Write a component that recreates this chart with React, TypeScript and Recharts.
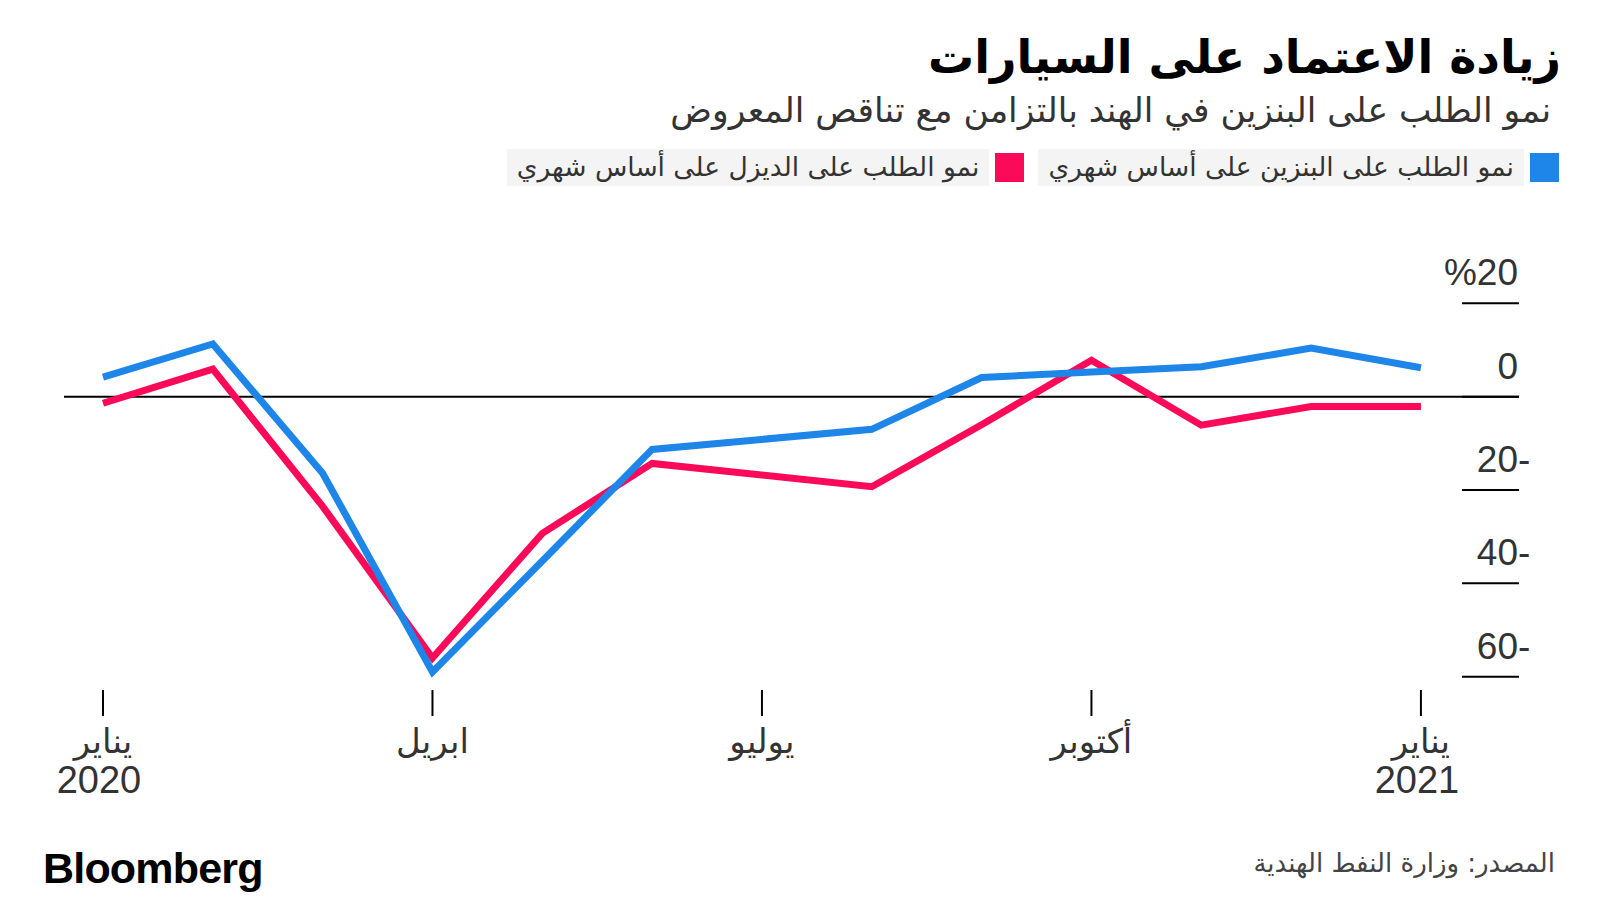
import { LineChart, Line, XAxis, YAxis, ReferenceLine } from 'recharts'

// month index 0 = Jan 2020 ... 12 = Jan 2021
const months = [0, 1, 2, 3, 4, 5, 6, 7, 8, 9, 10, 11, 12]
// y/y growth, % (July has no point in the source chart)
const petrol = [4.2, 11.3, -16.4, -59, -35.2, -11.3, null, -7.0, 4.1, 5.3, 6.4, 10.4, 6.2]
const diesel = [-1.4, 5.9, -23.5, -56, -29.3, -14.3, null, -19.3, -6, 7.8, -6.1, -2.1, -2.1]

const tickMonths = [0, 3, 6, 9, 12]
const tickNames = ['يناير', 'ابريل', 'يوليو', 'أكتوبر', 'يناير']
const tickYears = ['2020', '', '', '', '2021']
const yTicks = [20, 0, -20, -40, -60]

const title = 'زيادة الاعتماد على السيارات'
const subtitle = 'نمو الطلب على البنزين في الهند بالتزامن مع تناقص المعروض'
const petrolLabel = 'نمو الطلب على البنزين على أساس شهري'
const dieselLabel = 'نمو الطلب على الديزل على أساس شهري'
const source = 'المصدر: وزارة النفط الهندية'

const BLUE = '#1e86e9'
const RED = '#fb0a5a'
const TEXT = '#333'
const NUM_FONT = "'Liberation Sans', 'DejaVu Sans', sans-serif"
const AR_FONT = "'DejaVu Sans', sans-serif"

const data = months.map((m, i) => ({ m, petrol: petrol[i], diesel: diesel[i] }))

function YTick({ y, payload }: any) {
  const v = payload.value as number
  const right = 1518
  const label = v > 0 ? '%' + v : String(Math.abs(v))
  return (
    <g>
      <line x1={1462} x2={1519} y1={y} y2={y} stroke="#000" strokeWidth={2} />
      <text x={right} y={y - 18} textAnchor="end" fontSize={37} fill={TEXT} fontFamily={NUM_FONT}>
        {label}
      </text>
      {v < 0 && (
        <text x={right} y={y - 18} textAnchor="start" fontSize={37} fill={TEXT} fontFamily={NUM_FONT}>
          -
        </text>
      )}
    </g>
  )
}

function XTick({ x, payload }: any) {
  const i = tickMonths.indexOf(payload.value)
  return (
    <g>
      <line x1={x} x2={x} y1={690} y2={716} stroke="#000" strokeWidth={2} />
      <text x={x} y={753} textAnchor="middle" fontSize={34} fill={TEXT} fontFamily={AR_FONT}>
        {tickNames[i]}
      </text>
      {tickYears[i] && (
        <text x={x - 4} y={793} textAnchor="middle" fontSize={38} fill={TEXT} fontFamily={NUM_FONT}>
          {tickYears[i]}
        </text>
      )}
    </g>
  )
}

function LegendItem({ color, label }: { color: string; label: string }) {
  return (
    <div style={{ display: 'flex', alignItems: 'center' }}>
      <div style={{ width: 29, height: 29, background: color }} />
      <div
        style={{
          marginRight: 6,
          background: '#f4f4f4',
          padding: '2px 10px 4px 10px',
          fontSize: 26.5,
          color: TEXT,
          lineHeight: '31px',
        }}
      >
        {label}
      </div>
    </div>
  )
}

export default function App() {
  return (
    <div
      style={{
        position: 'absolute',
        left: 0,
        top: 0,
        width: 1600,
        height: 900,
        background: '#fff',
        overflow: 'hidden',
      }}
    >
      <div
        style={{
          position: 'absolute',
          right: 39,
          top: 30,
          direction: 'rtl',
          fontFamily: AR_FONT,
          fontWeight: 700,
          fontSize: 46,
          color: '#000',
          whiteSpace: 'nowrap',
          lineHeight: 1.2,
        }}
      >
        {title}
      </div>
      <div
        style={{
          position: 'absolute',
          right: 49,
          top: 90,
          direction: 'rtl',
          fontFamily: AR_FONT,
          fontSize: 34.5,
          color: TEXT,
          whiteSpace: 'nowrap',
          lineHeight: 1.2,
        }}
      >
        {subtitle}
      </div>
      <div
        style={{
          position: 'absolute',
          right: 41,
          top: 149,
          direction: 'rtl',
          fontFamily: AR_FONT,
          display: 'flex',
          gap: 14,
          whiteSpace: 'nowrap',
        }}
      >
        <LegendItem color={BLUE} label={petrolLabel} />
        <LegendItem color={RED} label={dieselLabel} />
      </div>

      <div style={{ position: 'absolute', left: 0, top: 0 }}>
        <LineChart
          width={1600}
          height={900}
          data={data}
          margin={{ top: 256.7, right: 0, bottom: 100, left: 64 }}
        >
          <XAxis
            dataKey="m"
            type="number"
            domain={[-0.355, 12.893]}
            ticks={tickMonths}
            tick={<XTick />}
            tickLine={false}
            axisLine={false}
            height={100}
            allowDataOverflow
          />
          <YAxis
            orientation="right"
            type="number"
            domain={[-65, 30]}
            ticks={yTicks}
            tick={<YTick />}
            tickLine={false}
            axisLine={false}
            width={81}
            allowDataOverflow
          />
          <ReferenceLine y={0} stroke="#000" strokeWidth={2} />
          <Line
            dataKey="diesel"
            type="linear"
            stroke={RED}
            strokeWidth={7}
            strokeLinejoin="miter"
            dot={false}
            activeDot={false}
            connectNulls
            isAnimationActive={false}
          />
          <Line
            dataKey="petrol"
            type="linear"
            stroke={BLUE}
            strokeWidth={7}
            strokeLinejoin="miter"
            dot={false}
            activeDot={false}
            connectNulls
            isAnimationActive={false}
          />
        </LineChart>
      </div>

      <div
        style={{
          position: 'absolute',
          left: 43,
          top: 843,
          fontFamily: NUM_FONT,
          fontWeight: 700,
          fontSize: 43,
          letterSpacing: -0.8,
          color: '#000',
          lineHeight: 1.2,
        }}
      >
        Bloomberg
      </div>
      <div
        style={{
          position: 'absolute',
          right: 45,
          top: 848,
          direction: 'rtl',
          fontFamily: AR_FONT,
          fontSize: 26,
          color: '#444',
          whiteSpace: 'nowrap',
          lineHeight: 1.2,
        }}
      >
        {source}
      </div>
    </div>
  )
}
